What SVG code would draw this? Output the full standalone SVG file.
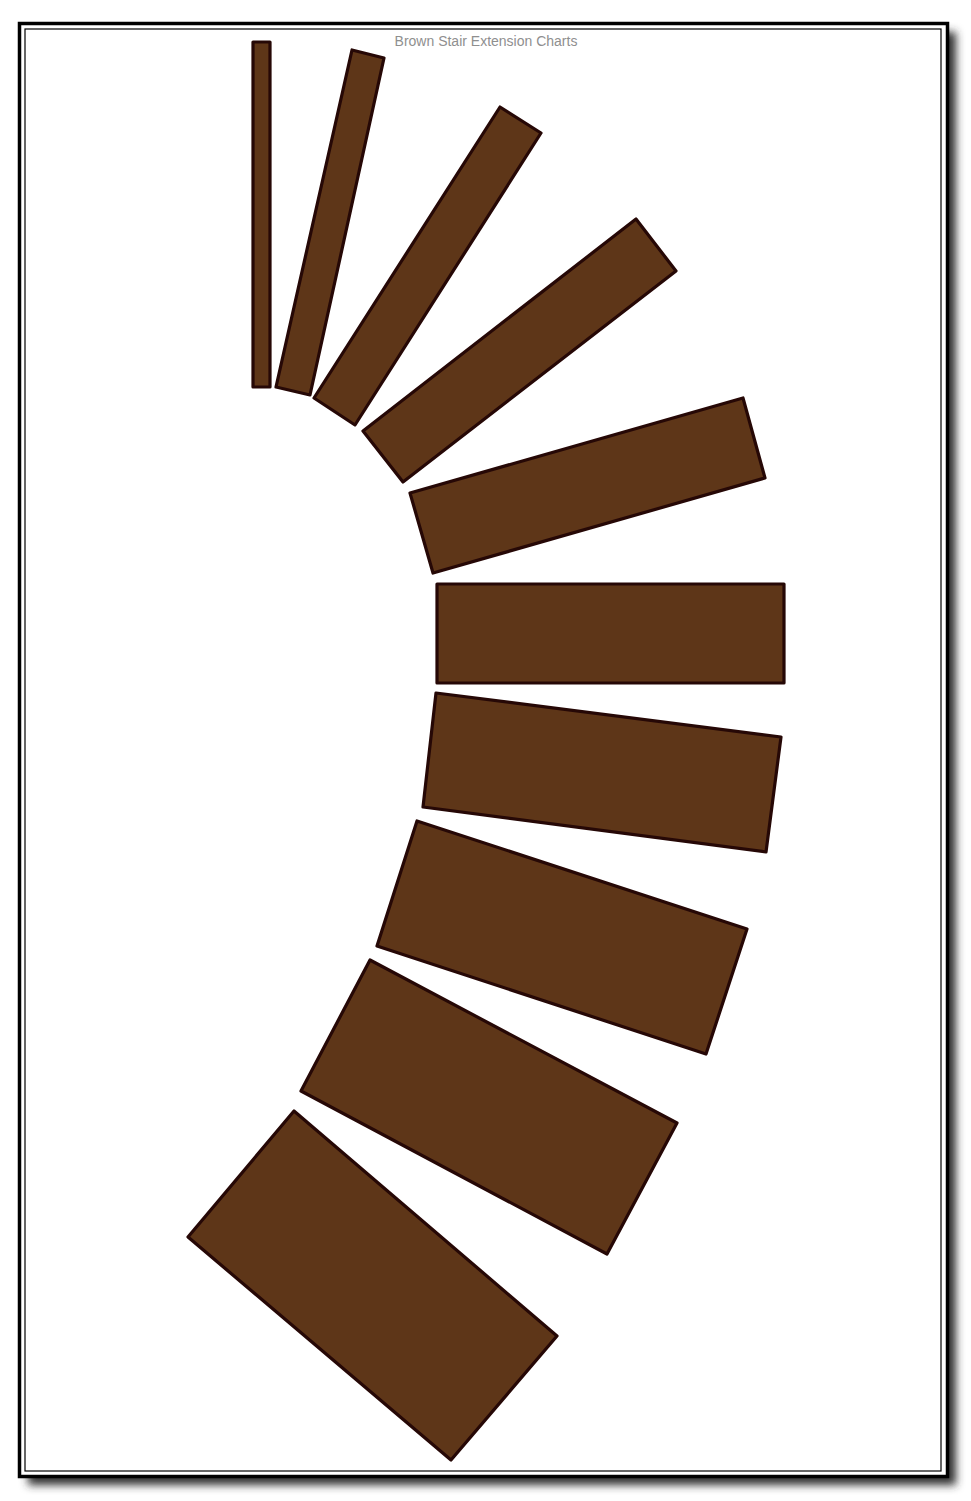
<svg xmlns="http://www.w3.org/2000/svg" width="971" height="1501" viewBox="0 0 971 1501">
<style>
.step{fill:#5e3618;stroke:#260806;stroke-width:3.2;stroke-linejoin:round}
.title{font-family:"Liberation Sans",Arial,sans-serif;font-size:14px;fill:#8f8f8f}
</style>
<defs>
<filter id="sh" x="-5%" y="-5%" width="115%" height="115%">
<feGaussianBlur stdDeviation="4.5"/>
</filter>
</defs>
<rect width="971" height="1501" fill="#fff"/>
<rect x="28" y="32" width="928" height="1453" fill="#333" filter="url(#sh)"/>
<rect x="19.5" y="23.5" width="928" height="1453" fill="#fff" stroke="#000" stroke-width="3.5"/>
<rect x="25" y="29" width="916" height="1442" fill="none" stroke="#000" stroke-width="1.2"/>
<text class="title" x="486" y="46" text-anchor="middle">Brown Stair Extension Charts</text>
<g id="steps">
<g id="step1"><polygon class="step" points="253,42 270,42 270,387 253,387"/></g>
<g id="step2"><polygon class="step" points="352,50 384,58 310,395 276,387"/></g>
<g id="step3"><polygon class="step" points="500,107 541,133 355,425 314,398"/></g>
<g id="step4"><polygon class="step" points="636,219 676,271 403,482 363,431"/></g>
<g id="step5"><polygon class="step" points="743,398 765,478 433,573 410,493"/></g>
<g id="step6"><polygon class="step" points="437,584 784,584 784,683 437,683"/></g>
<g id="step7"><polygon class="step" points="436,693 781,737 766,852 423,807"/></g>
<g id="step8"><polygon class="step" points="417,821 747,929 706,1054 377,946"/></g>
<g id="step9"><polygon class="step" points="370,960 677,1123 607,1254 301,1091"/></g>
<g id="step10"><polygon class="step" points="294,1111 557,1336 451,1460 188,1237"/></g>
</g>
<g id="connectors"/>
</svg>
